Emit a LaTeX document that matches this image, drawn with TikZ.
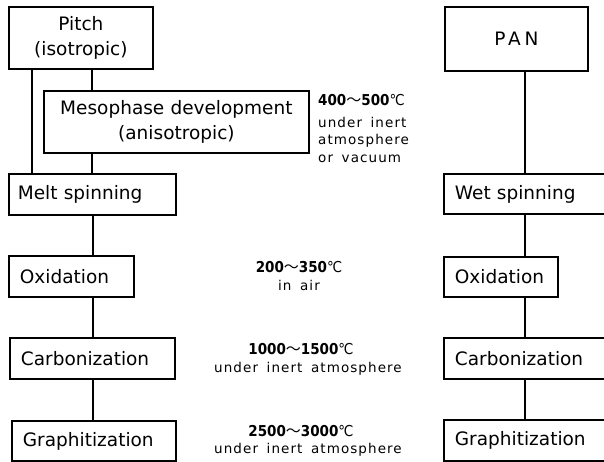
\documentclass[tikz,border=0pt]{standalone}
\usepackage{fontspec}
\setmainfont{DejaVu Sans}
\newfontfamily\cjkf{Noto Sans CJK JP}
\newfontfamily\condr{DejaVu Sans Condensed}
\newfontfamily\condb{DejaVu Sans Condensed Bold}
\newfontfamily\notef[LetterSpace=8,WordSpace=1.6]{DejaVu Sans}
\newcommand\tempr[2]{{\condb #1}{\cjkf ～}{\condb #2}{\condr ℃}}
\begin{document}
\begin{tikzpicture}[x=1pt,y=-1pt,
  box/.style={draw, line width=1.8pt, inner ysep=0pt, inner xsep=11pt, anchor=north west,
    font=\fontsize{18.5}{25}\selectfont},
  conn/.style={line width=1.8pt},
  tmp/.style={inner sep=0pt, font=\fontsize{15}{16}\selectfont},
  sm/.style={inner sep=0pt, font=\notef\fontsize{13.5}{15}\selectfont}]
\useasboundingbox (0,0) rectangle (604,462);
\clip (0,0) rectangle (604,462);
% left column
\node[box, minimum width=144, minimum height=62, text width=122, align=center] (pitch) at (8,6) {Pitch\\(isotropic)};
\node[box, minimum width=265, minimum height=62, text width=243, align=center] (meso) at (43,90) {Mesophase development\\(anisotropic)};
\node[box, inner xsep=9pt, minimum width=167, minimum height=41, text width=149, align=left] (melt) at (8,173) {Melt spinning};
\node[box, minimum width=125, minimum height=41, text width=103, align=left] (oxl) at (8,255) {Oxidation};
\node[box, minimum width=165, minimum height=41, text width=143, align=left] (carbl) at (9,337) {Carbonization};
\node[box, minimum width=164, minimum height=40, text width=142, align=left] (grapl) at (11,420) {Graphitization};
% right column
\node[box, minimum width=143, minimum height=64, text width=121, align=center] (pan) at (444,6) {\addfontfeature{LetterSpace=20}PAN};
\node[box, minimum width=200, minimum height=40, text width=178, align=left] (wet) at (443,173) {Wet spinning};
\node[box, minimum width=114, minimum height=40, text width=92, align=left] (oxr) at (443,256) {Oxidation};
\node[box, minimum width=200, minimum height=41, text width=178, align=left] (carbr) at (443,337) {Carbonization};
\node[box, minimum width=200, minimum height=41, text width=178, align=left] (grapr) at (443,419) {Graphitization};
% connector x positions
\coordinate (la) at (32,0);
\coordinate (lb) at (92,0);
\coordinate (lx) at (93,0);
\coordinate (rx) at (525,0);
\draw[conn] (pitch.south -| la) -- (melt.north -| la);
\draw[conn] (pitch.south -| lb) -- (meso.north -| lb);
\draw[conn] (meso.south -| lb) -- (melt.north -| lb);
\draw[conn] (melt.south -| lx) -- (oxl.north -| lx);
\draw[conn] (oxl.south -| lx) -- (carbl.north -| lx);
\draw[conn] (carbl.south -| lx) -- (grapl.north -| lx);
\draw[conn] (pan.south -| rx) -- (wet.north -| rx);
\draw[conn] (wet.south -| rx) -- (oxr.north -| rx);
\draw[conn] (oxr.south -| rx) -- (carbr.north -| rx);
\draw[conn] (carbr.south -| rx) -- (grapr.north -| rx);
% conditions
\node[tmp, anchor=west] (c1) at (318,100) {\tempr{400}{500}};
\node[sm, anchor=west] (c1a) at (318,122) {under inert};
\node[sm, anchor=west] (c1b) at (318,141) {atmosphere};
\node[sm, anchor=west] (c1c) at (318,159) {or vacuum};
\node[tmp] (c2) at (299,267) {\tempr{200}{350}};
\node[sm] (c2a) at (299,285) {in air};
\node[tmp] (c3) at (301,349) {\tempr{1000}{1500}};
\node[sm] (c3a) at (308,369) {under inert atmosphere};
\node[tmp] (c4) at (301,431) {\tempr{2500}{3000}};
\node[sm] (c4a) at (308,450) {under inert atmosphere};
\end{tikzpicture}
\end{document}
